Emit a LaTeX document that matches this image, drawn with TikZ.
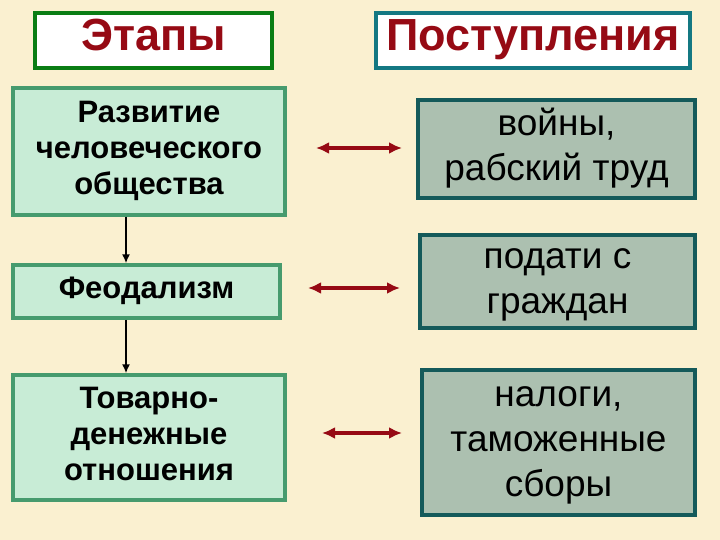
\documentclass[tikz,border=0pt]{standalone}
\usepackage{fontspec}
\setmainfont{Liberation Sans}
\usetikzlibrary{arrows.meta}
\definecolor{bg}{RGB}{250,240,208}
\definecolor{lg}{RGB}{200,236,214}
\definecolor{lgb}{RGB}{70,155,110}
\definecolor{gg}{RGB}{172,192,176}
\definecolor{ggb}{RGB}{20,90,90}
\definecolor{tl}{RGB}{20,120,130}
\definecolor{gr}{RGB}{10,125,20}
\definecolor{dr}{RGB}{150,10,20}
\newcommand{\lowtxt}[2]{\raisebox{#1}{\begin{tabular}{@{}c@{}}#2\end{tabular}}}
\tikzset{
 lbox/.style={draw=lgb,fill=lg,line width=3.5pt,inner sep=0pt,font=\bfseries\fontsize{31}{36}\selectfont},
 rbox/.style={draw=ggb,fill=gg,line width=4.5pt,inner sep=0pt,font=\fontsize{37}{45}\selectfont},
 title/.style={fill=white,line width=4.5pt,inner sep=0pt,font=\bfseries\fontsize{45}{50}\selectfont,text=dr},
 darr/.style={{Latex[length=13pt,width=12pt]}-{Latex[length=13pt,width=12pt]},line width=4pt,draw=dr},
 varr/.style={-{Latex[length=9pt,width=8pt]},line width=1.5pt}
}
\begin{document}
\begin{tikzpicture}[x=1pt,y=-1pt]
\fill[bg] (0,0) rectangle (720,540);
\node[title,draw=gr,minimum width=237pt,minimum height=55pt] (t1) at (153.5,40.5) {\lowtxt{-3pt}{Этапы}};
\node[title,draw=tl,minimum width=314pt,minimum height=55pt] (t2) at (533,40.5) {\lowtxt{-3pt}{Поступления}};
\node[lbox,minimum width=272pt,minimum height=127pt] (a) at (149,151.5) {\lowtxt{-2pt}{Развитие\\человеческого\\общества}};
\node[lbox,minimum width=267pt,minimum height=53pt] (b) at (146.5,291.5) {\lowtxt{-5pt}{Феодализм}};
\node[lbox,minimum width=272pt,minimum height=125pt] (c) at (149,437.5) {\lowtxt{-2pt}{Товарно-\\денежные\\отношения}};
\node[rbox,minimum width=277pt,minimum height=98pt] (p) at (556.5,149) {\lowtxt{-6pt}{войны,\\рабский труд}};
\node[rbox,minimum width=275pt,minimum height=93pt] (q) at (557.5,281.5) {\lowtxt{-6pt}{подати с\\граждан}};
\node[rbox,minimum width=273pt,minimum height=145pt] (r) at (558.5,442.5) {\lowtxt{-6pt}{налоги,\\таможенные\\сборы}};
\coordinate (a1) at (316,148); \coordinate (a2) at (402,148);
\coordinate (b1) at (308,288); \coordinate (b2) at (400,288);
\coordinate (c1) at (322,433); \coordinate (c2) at (402,433);
\draw[darr] (a1) -- (a2);
\draw[darr] (b1) -- (b2);
\draw[darr] (c1) -- (c2);
\draw[varr] (a.south -| 126,0) -- (b.north -| 126,0);
\draw[varr] (b.south -| 126,0) -- (c.north -| 126,0);
\end{tikzpicture}
\end{document}
